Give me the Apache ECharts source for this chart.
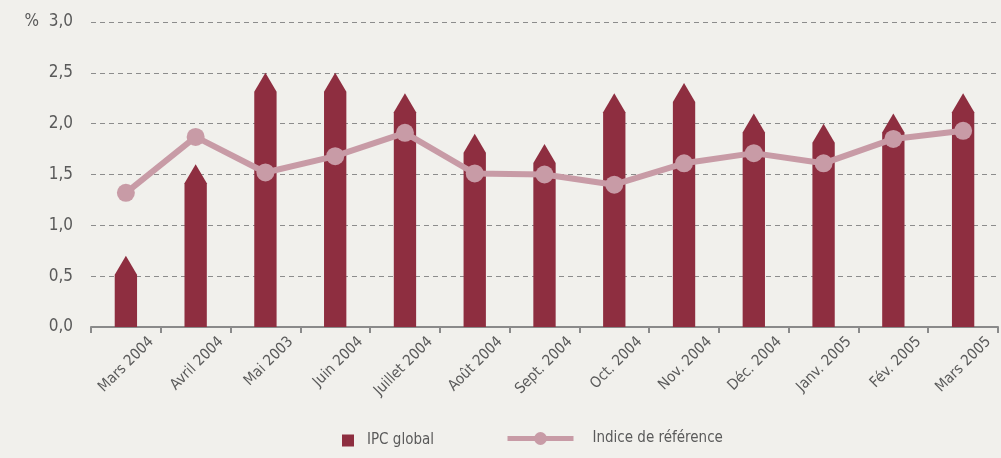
<!DOCTYPE html>
<html>
<head>
<meta charset="utf-8">
<script src="https://cdn.jsdelivr.net/npm/echarts@6/dist/echarts.min.js"></script>
<style>
  html, body { margin: 0; padding: 0; background: #f1f0ec; }
  #chart { width: 1001px; height: 458px; }
</style>
</head>
<body>
<div id="chart"></div>
<script>
// Mois de la période observée
const months = ['Mars 2004', 'Avril 2004', 'Mai 2003', 'Juin 2004', 'Juillet 2004', 'Août 2004',
  'Sept. 2004', 'Oct. 2004', 'Nov. 2004', 'Déc. 2004', 'Janv. 2005', 'Fév. 2005', 'Mars 2005'];
// IPC global (%), hauteur à la pointe de chaque barre
const ipcGlobal = [0.7, 1.6, 2.5, 2.5, 2.3, 1.9, 1.8, 2.3, 2.4, 2.1, 2.0, 2.1, 2.3];
// Indice de référence (%)
const indiceReference = [1.32, 1.87, 1.52, 1.68, 1.91, 1.51, 1.50, 1.40, 1.61, 1.71, 1.61, 1.85, 1.93];
// Graduations de l'axe vertical
const yTicks = [0, 0.5, 1.0, 1.5, 2.0, 2.5, 3.0];

const FONT = "'Liberation Sans Narrow', 'DejaVu Sans Condensed', 'Roboto', sans-serif";
const BAR_COLOR = '#8e2e40';
const LINE_COLOR = '#c89ba6';
const TEXT_COLOR = '#5a5a5a';
const TIP_PX = 19;

const chart = echarts.init(document.getElementById('chart'), null, { renderer: 'canvas' });

// Barre en forme de crayon : rectangle surmonté d'une pointe triangulaire
function renderPencil(params, api) {
  const idx = api.value(0);
  const val = api.value(1);
  const base = api.coord([idx, 0]);
  const tip = api.coord([idx, val]);
  const half = api.size([1, 0])[0] * 0.16;
  const shoulder = Math.min(tip[1] + TIP_PX, base[1]);
  return {
    type: 'polygon',
    shape: {
      points: [
        [base[0] - half, base[1]],
        [base[0] - half, shoulder],
        [tip[0], tip[1]],
        [base[0] + half, shoulder],
        [base[0] + half, base[1]]
      ]
    },
    style: { fill: BAR_COLOR }
  };
}

const fmt = v => v.toFixed(1).replace('.', ',');

chart.setOption({
  backgroundColor: '#f1f0ec',
  animation: false,
  grid: { left: 91, right: 3, top: 22, bottom: 131, containLabel: false },
  legend: [
    {
      left: 337, top: 428, itemWidth: 12, itemHeight: 12, itemGap: 10,
      textStyle: { fontFamily: FONT, fontSize: 15, color: TEXT_COLOR, padding: [0, 0, 0, 8] },
      data: [{ name: 'IPC global', icon: 'rect' }]
    },
    {
      left: 500, top: 426, itemWidth: 66, itemHeight: 16,
      lineStyle: { width: 5 },
      textStyle: { fontFamily: FONT, fontSize: 15, color: TEXT_COLOR, padding: [0, 0, 0, 14] },
      data: ['Indice de référence']
    }
  ],
  xAxis: {
    type: 'category',
    data: months,
    boundaryGap: true,
    axisLine: { lineStyle: { color: '#8a8a8a', width: 2 } },
    axisTick: { show: true, length: 6, lineStyle: { color: '#8a8a8a', width: 2 } },
    axisLabel: {
      interval: 0,
      rotate: 45,
      margin: 38,
      color: TEXT_COLOR,
      fontFamily: FONT,
      fontSize: 15,
      formatter: v => '{m|' + v + '}',
      rich: { m: { fontFamily: FONT, fontSize: 15, color: TEXT_COLOR, padding: [0, -36, 0, 0] } }
    }
  },
  yAxis: {
    type: 'value',
    min: yTicks[0],
    max: yTicks[yTicks.length - 1],
    interval: 0.5,
    axisLine: { show: false },
    axisTick: { show: false },
    axisLabel: {
      margin: 18,
      color: TEXT_COLOR,
      fontFamily: FONT,
      fontSize: 17,
      formatter: v => (v === 3 ? '%  ' : '') + fmt(v)
    },
    splitLine: { lineStyle: { color: '#8c8c8c', type: [5, 4], width: 1 } }
  },
  series: [
    {
      name: 'IPC global',
      type: 'custom',
      renderItem: renderPencil,
      itemStyle: { color: BAR_COLOR },
      encode: { x: 0, y: 1 },
      data: ipcGlobal.map((v, i) => [i, v]),
      z: 2
    },
    {
      name: 'Indice de référence',
      type: 'line',
      data: indiceReference,
      symbol: 'circle',
      symbolSize: 18,
      lineStyle: { color: LINE_COLOR, width: 6 },
      itemStyle: { color: LINE_COLOR },
      z: 3
    }
  ]
});
</script>
</body>
</html>
